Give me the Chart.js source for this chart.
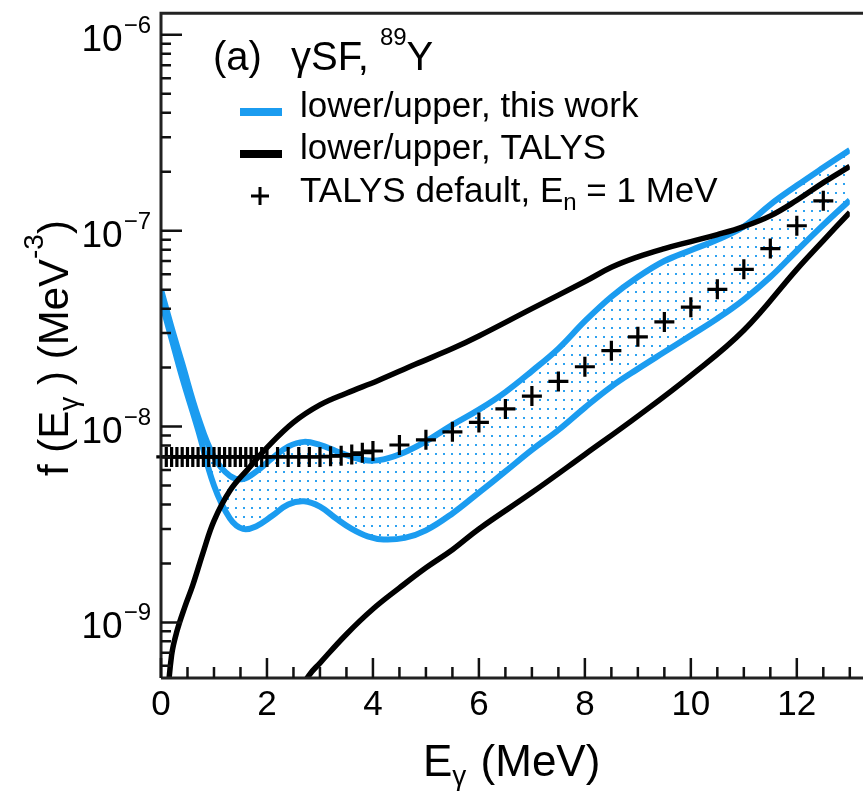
<!DOCTYPE html>
<html><head><meta charset="utf-8">
<script src="https://cdn.jsdelivr.net/npm/chart.js@4/dist/chart.umd.min.js"></script>
<style>html,body{margin:0;padding:0;background:#fff;}canvas{display:block;}</style>
</head><body>
<canvas id="c" width="863" height="793"></canvas>
<script>
// ---- data ----
const energyBand = [0, 0.2, 0.4, 0.7, 1.0, 1.3, 1.55, 1.8, 2.1, 2.4, 2.7, 3.0, 3.3, 3.6, 3.9, 4.2, 4.6, 5.0, 5.5, 6.0, 6.5, 7.0, 7.5, 8.0, 8.5, 9.0, 9.5, 10.0, 10.5, 11.0, 11.5, 12.0, 12.5, 13.0];
const bandUpper = [5.0e-8, 3.2e-8, 2.1e-8, 1.12e-8, 7.0e-9, 5.6e-9, 5.4e-9, 5.9e-9, 6.9e-9, 7.9e-9, 8.35e-9, 8.05e-9, 7.5e-9, 7.0e-9, 6.7e-9, 6.8e-9, 7.4e-9, 8.4e-9, 1.02e-8, 1.22e-8, 1.5e-8, 1.92e-8, 2.5e-8, 3.45e-8, 4.6e-8, 5.8e-8, 7.0e-8, 7.95e-8, 9.0e-8, 1.05e-7, 1.36e-7, 1.7e-7, 2.1e-7, 2.58e-7];
const bandLower = [4.4e-8, 2.8e-8, 1.78e-8, 9.6e-9, 5.0e-9, 3.4e-9, 3.0e-9, 3.1e-9, 3.5e-9, 4.0e-9, 4.15e-9, 3.9e-9, 3.4e-9, 3.0e-9, 2.75e-9, 2.65e-9, 2.7e-9, 2.95e-9, 3.6e-9, 4.6e-9, 5.9e-9, 7.6e-9, 9.6e-9, 1.25e-8, 1.6e-8, 1.97e-8, 2.4e-8, 2.92e-8, 3.56e-8, 4.45e-8, 5.8e-8, 7.9e-8, 1.07e-7, 1.43e-7];

const energyTalysUpper = [0.1, 0.2, 0.3, 0.45, 0.6, 0.8, 1.0, 1.3, 1.65, 2.0, 2.5, 3.0, 3.5, 4.1, 4.8, 5.5, 6.0, 7.0, 8.0, 8.5, 9.0, 9.5, 10.0, 10.5, 11.0, 11.5, 12.0, 12.5, 13.0];
const talysUpper = [3.5e-10, 6.8e-10, 9.0e-10, 1.2e-9, 1.55e-9, 2.3e-9, 3.3e-9, 4.7e-9, 6.1e-9, 7.8e-9, 1.05e-8, 1.29e-8, 1.48e-8, 1.72e-8, 2.08e-8, 2.5e-8, 2.9e-8, 4.0e-8, 5.5e-8, 6.5e-8, 7.35e-8, 8.1e-8, 8.8e-8, 9.55e-8, 1.05e-7, 1.19e-7, 1.43e-7, 1.76e-7, 2.13e-7];

const energyTalysLower = [2.6, 2.8, 3.0, 3.5, 4.0, 4.5, 5.0, 5.5, 6.0, 7.0, 8.0, 9.0, 10.0, 11.0, 12.0, 12.5, 13.0];
const talysLower = [4.4e-10, 5.4e-10, 6.2e-10, 8.7e-10, 1.17e-9, 1.5e-9, 1.9e-9, 2.35e-9, 3.0e-9, 4.6e-9, 7.2e-9, 1.13e-8, 1.82e-8, 3.1e-8, 6.35e-8, 8.9e-8, 1.24e-7];

const energyDefault = [0.1, 0.2, 0.3, 0.4, 0.5, 0.6, 0.7, 0.8, 0.9, 1.0, 1.1, 1.2, 1.3, 1.4, 1.5, 1.6, 1.7, 1.8, 1.9, 2.0,
  2.2, 2.4, 2.6, 2.8, 3.0, 3.2, 3.4, 3.6, 3.8, 4.0,
  4.5, 5.0, 5.5, 6.0, 6.5, 7.0, 7.5, 8.0, 8.5, 9.0, 9.5, 10.0, 10.5, 11.0, 11.5, 12.0, 12.5];
const talysDefault = [7.0e-9, 7.0e-9, 7.0e-9, 7.0e-9, 7.0e-9, 7.0e-9, 7.0e-9, 7.0e-9, 7.0e-9, 7.0e-9, 7.0e-9, 7.0e-9, 7.0e-9, 7.0e-9, 7.0e-9, 7.0e-9, 7.0e-9, 7.0e-9, 7.0e-9, 7.0e-9,
  7.0e-9, 7.0e-9, 7.0e-9, 7.0e-9, 7.0e-9, 7.05e-9, 7.1e-9, 7.2e-9, 7.35e-9, 7.5e-9,
  8.05e-9, 8.55e-9, 9.4e-9, 1.05e-8, 1.23e-8, 1.43e-8, 1.70e-8, 2.02e-8, 2.44e-8, 2.87e-8, 3.42e-8, 4.07e-8, 5.02e-8, 6.35e-8, 8.1e-8, 1.06e-7, 1.42e-7];

const xTickValues = [0, 2, 4, 6, 8, 10, 12];
const xTickLabels = ['0', '2', '4', '6', '8', '10', '12'];
const yTickValues = [1e-6, 1e-7, 1e-8, 1e-9];
const yTickExponents = ['\u22126', '\u22127', '\u22128', '\u22129'];

const legendLabels = ['lower/upper, this work', 'lower/upper, TALYS', 'TALYS default, E', 'n', ' = 1 MeV'];

// ---- styling ----
const BLUE = '#1b9cf0';
const FONT = '"Liberation Sans", Arial, Helvetica, sans-serif';
const f = s => s + 'px ' + FONT;

const ctx0 = document.getElementById('c').getContext('2d');
const dotCanvas = document.createElement('canvas');
dotCanvas.width = 8; dotCanvas.height = 9;
const dg = dotCanvas.getContext('2d');
dg.fillStyle = '#2ea2f0';
dg.fillRect(3, 3, 2, 2);
const dotPattern = ctx0.createPattern(dotCanvas, 'repeat');

const pts = (xs, ys) => xs.map((x, i) => ({x: x, y: ys[i]}));

function drawParts(ctx, x, y, parts) {
  let cx = x;
  for (const p of parts) {
    ctx.font = f(p.s);
    ctx.fillText(p.t, cx, y + (p.dy || 0));
    cx += ctx.measureText(p.t).width + (p.gap || 0);
  }
  return cx;
}

const decor = {
  id: 'decor',
  afterDraw(chart) {
    const ctx = chart.ctx;
    const xs = chart.scales.x, ys = chart.scales.y;
    const a = chart.chartArea;
    ctx.save();
    ctx.fillStyle = '#000';
    ctx.textBaseline = 'alphabetic';

    // frame / axes
    ctx.lineWidth = 3;
    ctx.strokeStyle = '#222';
    ctx.beginPath();
    ctx.moveTo(a.left, a.bottom); ctx.lineTo(863, a.bottom);
    ctx.moveTo(a.left, a.bottom); ctx.lineTo(a.left, a.top);
    ctx.lineTo(863, a.top);
    ctx.stroke();

    // x ticks (inward)
    ctx.lineWidth = 2.5;
    ctx.strokeStyle = '#111';
    ctx.beginPath();
    for (let v = 0; v <= 13.001; v += 0.5) {
      const px = xs.getPixelForValue(v);
      const major = Math.abs(v / 2 - Math.round(v / 2)) < 1e-6;
      ctx.moveTo(px, a.bottom);
      ctx.lineTo(px, a.bottom - (major ? 20 : 11));
    }
    // y ticks (inward)
    for (let d = -10; d <= -6; d++) {
      for (let m = 1; m <= 9; m++) {
        const v = m * Math.pow(10, d);
        if (v < ys.min || v > ys.max) continue;
        const py = ys.getPixelForValue(v);
        ctx.moveTo(a.left, py);
        ctx.lineTo(a.left + (m === 1 ? 21 : 10), py);
      }
    }
    ctx.stroke();

    // x tick labels
    ctx.textAlign = 'center';
    ctx.font = f(35);
    xTickValues.forEach((v, i) => {
      ctx.fillText(xTickLabels[i], xs.getPixelForValue(v), 715);
    });
    // y tick labels
    ctx.textAlign = 'right';
    yTickValues.forEach((v, i) => {
      const py = ys.getPixelForValue(v);
      ctx.font = f(24);
      ctx.fillText(yTickExponents[i], 151, py - 2);
      const w = ctx.measureText(yTickExponents[i]).width;
      ctx.font = f(37);
      ctx.fillText('10', 151 - w - 1, py + 16);
    });

    // axis titles
    ctx.textAlign = 'left';
    drawParts(ctx, 423, 776, [
      {t: 'E', s: 44},
      {t: '\u03b3', s: 28, dy: 9, gap: 2},
      {t: ' (MeV)', s: 44}
    ]);
    ctx.save();
    ctx.translate(68, 476);
    ctx.rotate(-Math.PI / 2);
    drawParts(ctx, 0, 0, [
      {t: 'f (E', s: 42},
      {t: '\u03b3', s: 28, dy: 10},
      {t: ' ) (MeV', s: 42},
      {t: '-3', s: 28, dy: -25},
      {t: ')', s: 42}
    ]);
    ctx.restore();

    // panel label
    drawParts(ctx, 213, 70, [{t: '(a)', s: 40}]);
    drawParts(ctx, 291, 70, [
      {t: '\u03b3SF, ', s: 40},
      {t: '89', s: 24, dy: -25},
      {t: 'Y', s: 40}
    ]);

    // legend
    ctx.fillStyle = BLUE;
    ctx.fillRect(240, 108, 42, 8);
    ctx.fillStyle = '#000';
    ctx.fillRect(240, 150, 42, 8);
    ctx.lineWidth = 3;
    ctx.strokeStyle = '#000';
    ctx.beginPath();
    ctx.moveTo(251, 196); ctx.lineTo(269, 196);
    ctx.moveTo(260, 187); ctx.lineTo(260, 205);
    ctx.stroke();
    drawParts(ctx, 300, 117, [{t: legendLabels[0], s: 35}]);
    drawParts(ctx, 300, 159, [{t: legendLabels[1], s: 35}]);
    drawParts(ctx, 300, 202, [
      {t: legendLabels[2], s: 35},
      {t: legendLabels[3], s: 24, dy: 8},
      {t: legendLabels[4], s: 35}
    ]);
    ctx.restore();
  }
};

new Chart(ctx0, {
  type: 'line',
  data: {
    datasets: [
      {
        label: 'TALYS default, En = 1 MeV',
        data: pts(energyDefault, talysDefault),
        showLine: false,
        pointStyle: 'cross',
        pointRadius: 10,
        pointBorderWidth: 3.2,
        borderColor: '#000',
        backgroundColor: '#000',
        order: 0,
        clip: false
      },
      {
        label: 'upper, TALYS',
        data: pts(energyTalysUpper, talysUpper),
        borderColor: '#000',
        borderWidth: 5.5,
        pointRadius: 0,
        tension: 0.4,
        fill: false,
        order: 1
      },
      {
        label: 'lower, TALYS',
        data: pts(energyTalysLower, talysLower),
        borderColor: '#000',
        borderWidth: 5.5,
        pointRadius: 0,
        tension: 0.4,
        fill: false,
        order: 1
      },
      {
        label: 'upper, this work',
        data: pts(energyBand, bandUpper),
        borderColor: BLUE,
        borderWidth: 6,
        pointRadius: 0,
        tension: 0.4,
        fill: '+1',
        backgroundColor: dotPattern,
        order: 3
      },
      {
        label: 'lower, this work',
        data: pts(energyBand, bandLower),
        borderColor: BLUE,
        borderWidth: 6,
        pointRadius: 0,
        tension: 0.4,
        fill: false,
        order: 2
      }
    ]
  },
  options: {
    responsive: false,
    animation: false,
    devicePixelRatio: 1,
    layout: {padding: {top: 7, right: 3, left: 0, bottom: 0}},
    plugins: {
      legend: {display: false},
      tooltip: {enabled: false},
      filler: {drawTime: 'beforeDatasetsDraw'}
    },
    scales: {
      x: {
        type: 'linear', min: 0, max: 13,
        ticks: {display: false},
        grid: {display: false},
        border: {display: false},
        afterFit: s => { s.height = 115; }
      },
      y: {
        type: 'logarithmic', min: 5.2e-10, max: 1.29e-6,
        ticks: {display: false},
        grid: {display: false},
        border: {display: false},
        afterFit: s => { s.width = 161; }
      }
    }
  },
  plugins: [decor]
});
</script>
</body></html>
